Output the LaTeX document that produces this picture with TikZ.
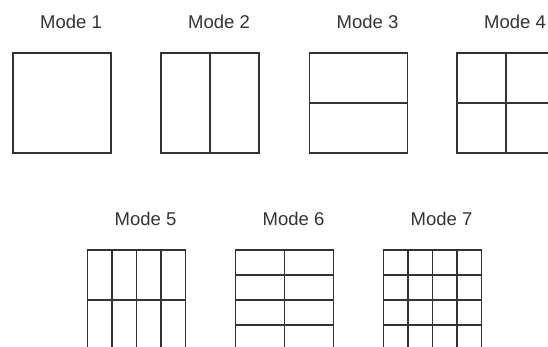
\documentclass[tikz,border=0pt]{standalone}
\usepackage{fontspec}
\setmainfont{Liberation Sans}
\usetikzlibrary{positioning,calc}
\definecolor{scr}{HTML}{333333}
\definecolor{lbl}{HTML}{333333}
\begin{document}
\begin{tikzpicture}[x=1pt,y=-1pt,line width=1.8pt,line join=miter,
  font=\fontsize{18.5}{20}\selectfont,
  screen/.style={draw=scr,minimum width=98pt,minimum height=100pt,
    inner sep=0pt,outer sep=0pt},
  title/.style={text=lbl,inner sep=0pt}]
  \useasboundingbox (0,0) rectangle (548,347);
  \clip (0,0) rectangle (548,347);
  % #1 name, #2 centre, #3 columns, #4 rows, #5 title
  \def\mode#1#2#3#4#5{%
    \node[screen] (#1) at #2 {};
    \ifnum#3>1
      \foreach \c [evaluate=\c as \f using (\c-1)/#3] in {2,...,#3}
        \draw[scr] ($(#1.north west)!\f!(#1.north east)$)
          -- ($(#1.south west)!\f!(#1.south east)$);
    \fi
    \ifnum#4>1
      \foreach \r [evaluate=\r as \f using (\r-1)/#4] in {2,...,#4}
        \draw[scr] ($(#1.north west)!\f!(#1.south west)$)
          -- ($(#1.north east)!\f!(#1.south east)$);
    \fi
    \node[title,above=23pt of #1.north,xshift=9pt] (#1t) {#5};}
  % top row
  \mode{m1}{(62,103)}{1}{1}{Mode 1}
  \mode{m2}{(210,103)}{2}{1}{Mode 2}
  \mode{m3}{(358.5,103)}{1}{2}{Mode 3}
  \mode{m4}{(506,103)}{2}{2}{Mode 4}
  % bottom row
  \mode{m5}{(136.5,300)}{4}{2}{Mode 5}
  \mode{m6}{(284.5,300)}{2}{4}{Mode 6}
  \mode{m7}{(432.5,300)}{4}{4}{Mode 7}
\end{tikzpicture}
\end{document}
